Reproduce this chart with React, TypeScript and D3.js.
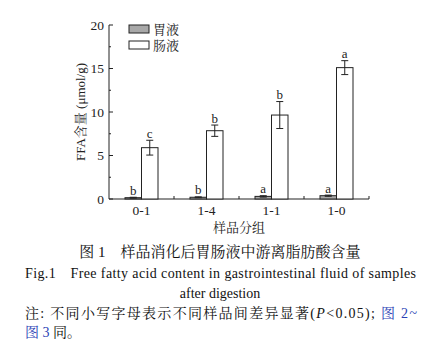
import * as d3 from 'd3';

const groups = ['0-1', '1-4', '1-1', '1-0'];
const seriesNames = ['胃液', '肠液'];
const gastric = [0.15, 0.2, 0.3, 0.38];
const gastricErr = [0.05, 0.05, 0.08, 0.07];
const gastricLetters = ['b', 'b', 'a', 'a'];
const intestinal = [5.9, 7.85, 9.65, 15.1];
const intestinalErr = [0.85, 0.65, 1.55, 0.8];
const intestinalLetters = ['c', 'b', 'b', 'a'];
const yTicks = [0, 5, 10, 15, 20];

const W = 447;
const H = 353;
const serif = "'Liberation Serif', 'Times New Roman', serif";
const cjk = "'Liberation Serif', 'Noto Serif CJK SC', 'Noto Sans CJK SC', serif";

export default function App() {
  const x = d3.scaleBand().domain(groups).range([109, 369]).padding(0);
  const y = d3.scaleLinear().domain([0, 20]).range([199, 25]);
  const inner = d3.scaleBand().domain(seriesNames).range([-16.5, 16.5]);
  const minor = d3.range(2.5, 20, 5);

  const series = [
    { name: seriesNames[0], vals: gastric, err: gastricErr, letters: gastricLetters, fill: '#a8a8a8' },
    { name: seriesNames[1], vals: intestinal, err: intestinalErr, letters: intestinalLetters, fill: '#ffffff' },
  ];

  return (
    <svg width={W} height={H} style={{ position: 'absolute', left: 0, top: 0, background: '#fff' }}>
      {/* y axis */}
      <line x1={109} x2={109} y1={y(20)} y2={y(0)} stroke="#222" strokeWidth={1} />
      {yTicks.map((t) => (
        <g key={t}>
          <line x1={109} x2={113} y1={y(t)} y2={y(t)} stroke="#222" />
          <text x={104} y={y(t)} dy="0.35em" textAnchor="end" fontSize={13.5} fontFamily={serif} fill="#222">
            {t}
          </text>
        </g>
      ))}
      {minor.map((t) => (
        <line key={t} x1={109} x2={111} y1={y(t)} y2={y(t)} stroke="#222" />
      ))}
      {/* x axis */}
      <line x1={109} x2={369} y1={y(0)} y2={y(0)} stroke="#222" strokeWidth={1} />
      {groups.slice(1).map((g) => (
        <line key={g} x1={x(g)!} x2={x(g)!} y1={y(0)} y2={y(0) - 3} stroke="#222" />
      ))}
      <line x1={369} x2={369} y1={y(0)} y2={y(0) - 3} stroke="#222" />
      {groups.map((g) => (
        <text key={g} x={x(g)! + x.bandwidth() / 2} y={210} dy="0.35em" textAnchor="middle" fontSize={13.5} fontFamily={serif} fill="#222">
          {g}
        </text>
      ))}

      {/* bars */}
      {series.map((s) =>
        groups.map((g, i) => {
          const cx = x(g)! + x.bandwidth() / 2;
          const bx = cx + inner(s.name)!;
          const bw = inner.bandwidth();
          const mid = bx + bw / 2;
          const top = y(s.vals[i] + s.err[i]);
          const bot = y(s.vals[i] - s.err[i]);
          return (
            <g key={s.name + g}>
              <rect x={bx} y={y(s.vals[i])} width={bw} height={y(0) - y(s.vals[i])} fill={s.fill} stroke="#222" strokeWidth={1} />
              <line x1={mid} x2={mid} y1={top} y2={bot} stroke="#222" />
              <line x1={mid - 3.5} x2={mid + 3.5} y1={top} y2={top} stroke="#222" />
              <line x1={mid - 3.5} x2={mid + 3.5} y1={bot} y2={bot} stroke="#222" />
              <text x={mid} y={top - 2.5} textAnchor="middle" fontSize={13} fontFamily={serif} fill="#222">
                {s.letters[i]}
              </text>
            </g>
          );
        })
      )}

      {/* legend */}
      {series.map((s, i) => (
        <g key={s.name} transform={`translate(129,${25 + i * 16})`}>
          <rect x={0} y={0} width={20} height={8} fill={s.fill} stroke="#222" />
          <text x={24} y={4} dy="0.35em" fontSize={13} fontFamily={cjk} fill="#222">
            {s.name}
          </text>
        </g>
      ))}

      {/* axis titles */}
      <text transform="translate(80,112) rotate(-90)" dy="0.35em" textAnchor="middle" fontSize={13} fontFamily={cjk} fill="#222">
        FFA含量 (μmol/g)
      </text>
      <text x={239} y={227} dy="0.35em" textAnchor="middle" fontSize={13} fontFamily={cjk} fill="#222">
        样品分组
      </text>

      {/* caption */}
      <text x={220} y={252} dy="0.35em" textAnchor="middle" fontSize={15} fontFamily={cjk} fill="#111">
        图 1　样品消化后胃肠液中游离脂肪酸含量
      </text>
      <text x={25} y={273} dy="0.35em" fontSize={14} fontFamily={serif} fill="#111" textLength={391} lengthAdjust="spacing">
        Fig.1　Free fatty acid content in gastrointestinal fluid of samples
      </text>
      <text x={220} y={293} dy="0.35em" textAnchor="middle" fontSize={14} fontFamily={serif} fill="#111">
        after digestion
      </text>
      <text x={25} y={313} dy="0.35em" fontSize={14} fontFamily={cjk} fill="#111" textLength={392} lengthAdjust="spacing">
        注: 不同小写字母表示不同样品间差异显著(<tspan fontStyle="italic">P</tspan>&lt;0.05);{' '}
        <tspan fill="#2b3fb5">图 2~</tspan>
      </text>
      <text x={25} y={332} dy="0.35em" fontSize={14} fontFamily={cjk} fill="#111">
        <tspan fill="#2b3fb5">图 3</tspan> 同。
      </text>
    </svg>
  );
}
